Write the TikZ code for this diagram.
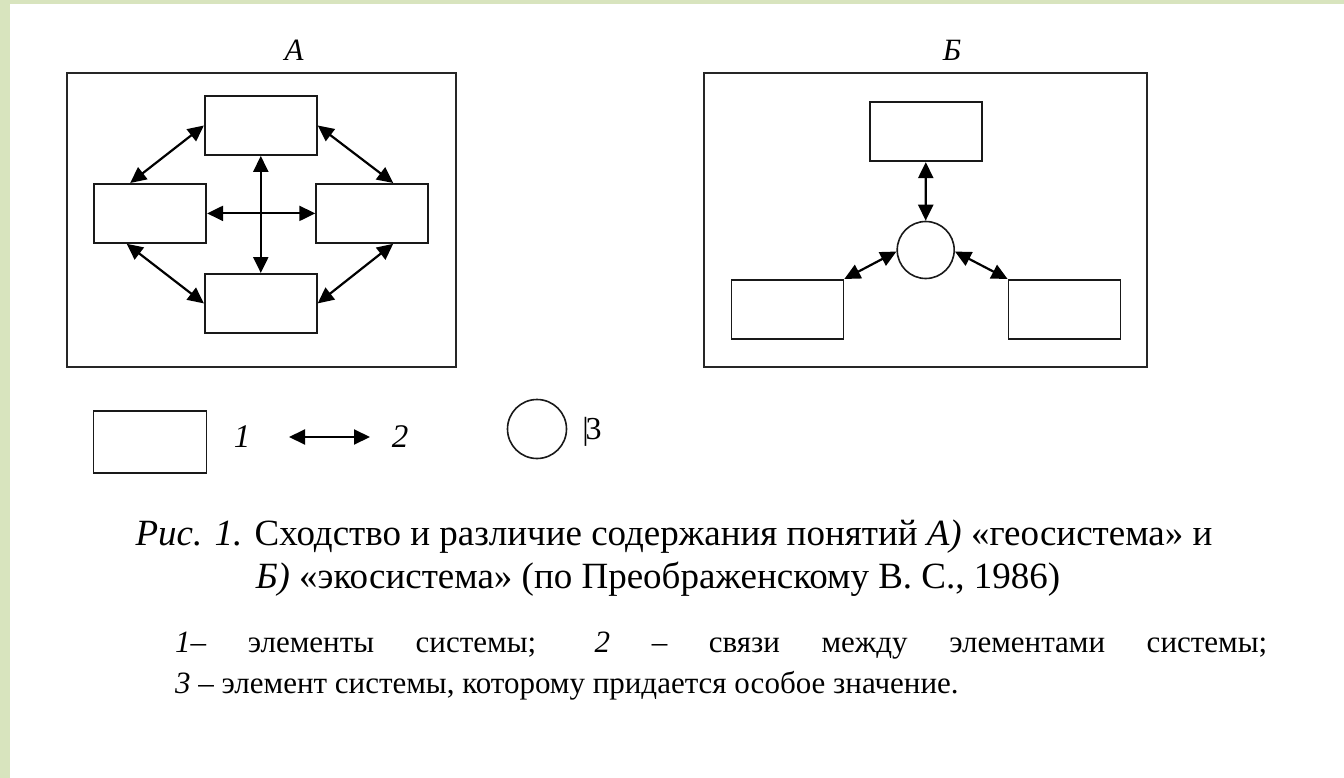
\documentclass[tikz,border=0pt]{standalone}
\usepackage{fontspec}
\setmainfont{Liberation Serif}
\usetikzlibrary{arrows.meta}
\definecolor{bordergreen}{HTML}{D8E4BE}
\begin{document}
\begin{tikzpicture}[x=1pt,y=-1pt,
  frame/.style={draw=black!85, line width=2.2pt},
  elem/.style={draw=black!90, line width=1.8pt, fill=white, minimum width=112pt, minimum height=59pt, inner sep=0pt},
  special/.style={draw=black!90, line width=1.6pt, circle, minimum size=57pt, inner sep=0pt},
  link/.style={line width=2.2pt, {Triangle[length=16pt,width=15pt]}-{Triangle[length=16pt,width=15pt]}},
  ttl/.style={font=\fontsize{31}{34}\selectfont\itshape, inner sep=0pt, anchor=base},
  lgd/.style={font=\fontsize{33}{36}\selectfont\itshape, inner sep=0pt},
  captxt/.style={font=\fontsize{37}{42}\selectfont, inner sep=0pt, anchor=base},
  notetxt/.style={font=\fontsize{31}{36}\selectfont, inner sep=0pt, anchor=base west}]
\useasboundingbox (0,0) rectangle (1344,778);
\fill[white] (0,0) rectangle (1344,778);
\fill[bordergreen] (0,0) rectangle (10,778);
\fill[bordergreen] (0,0) rectangle (1344,4);

% --- A ---
\node[ttl] (tA) at (294,61) {А};
\draw[frame] (66.7,73.3) rectangle (456,367);
\node[elem] (topA) at (260.8,125.5) {};
\node[elem] (leftA) at (150.2,213.4) {};
\node[elem] (rightA) at (372.2,213.4) {};
\node[elem] (botA) at (260.8,303.4) {};
\draw[link] (topA.west) -- ([xshift=-20pt]leftA.north);
\draw[link] (topA.east) -- ([xshift=21pt]rightA.north);
\draw[link] ([xshift=-23.5pt]leftA.south) -- (botA.west);
\draw[link] ([xshift=21pt]rightA.south) -- (botA.east);
\draw[link] (topA.south) -- (botA.north);
\draw[link] (leftA.east) -- (rightA.west);

% --- B ---
\node[ttl] (tB) at (952,61) {Б};
\draw[frame] (704,73.3) rectangle (1146.7,367);
\node[elem] (topB) at (925.8,131.7) {};
\node[special] (cB) at (925.7,250) {};
\node[elem] (leftB) at (787.4,309.4) {};
\node[elem] (rightB) at (1064.5,309.4) {};
\draw[link] (topB.south) -- (cB.north);
\draw[link] (leftB.north east) -- (cB.183);
\draw[link] (cB.-3) -- (rightB.north west);

% --- legend ---
\node[elem, minimum height=62pt, minimum width=113pt] (lg1) at (150,442) {};
\node[lgd] (n1) at (242,437) {1};
\coordinate (a1) at (289,437);
\coordinate (a2) at (370,437);
\draw[link, line width=2pt] (a1) -- (a2);
\node[lgd] (n2) at (400,437) {2};
\node[special, minimum size=59pt] (lg3) at (537,429) {};
\node[font=\fontsize{32}{36}\selectfont, inner sep=0pt] (n3) at (592,432) {|\kern-3pt3};

% --- caption ---
\node[captxt] (c1) at (674,545) {\textit{Рис. 1.} Сходство и различие содержания понятий \textit{А)} «геосистема» и};
\node[captxt] (c2) at (658,588) {\textit{Б)} «экосистема» (по Преображенскому В. С., 1986)};
\node[notetxt] (l1) at (175,652) {\makebox[1092pt][s]{\textit{1}– элементы системы; \textit{2} – связи между элементами системы;}};
\node[notetxt] (l2) at (175,693) {\textit{3} – элемент системы, которому придается особое значение.};
\end{tikzpicture}
\end{document}
